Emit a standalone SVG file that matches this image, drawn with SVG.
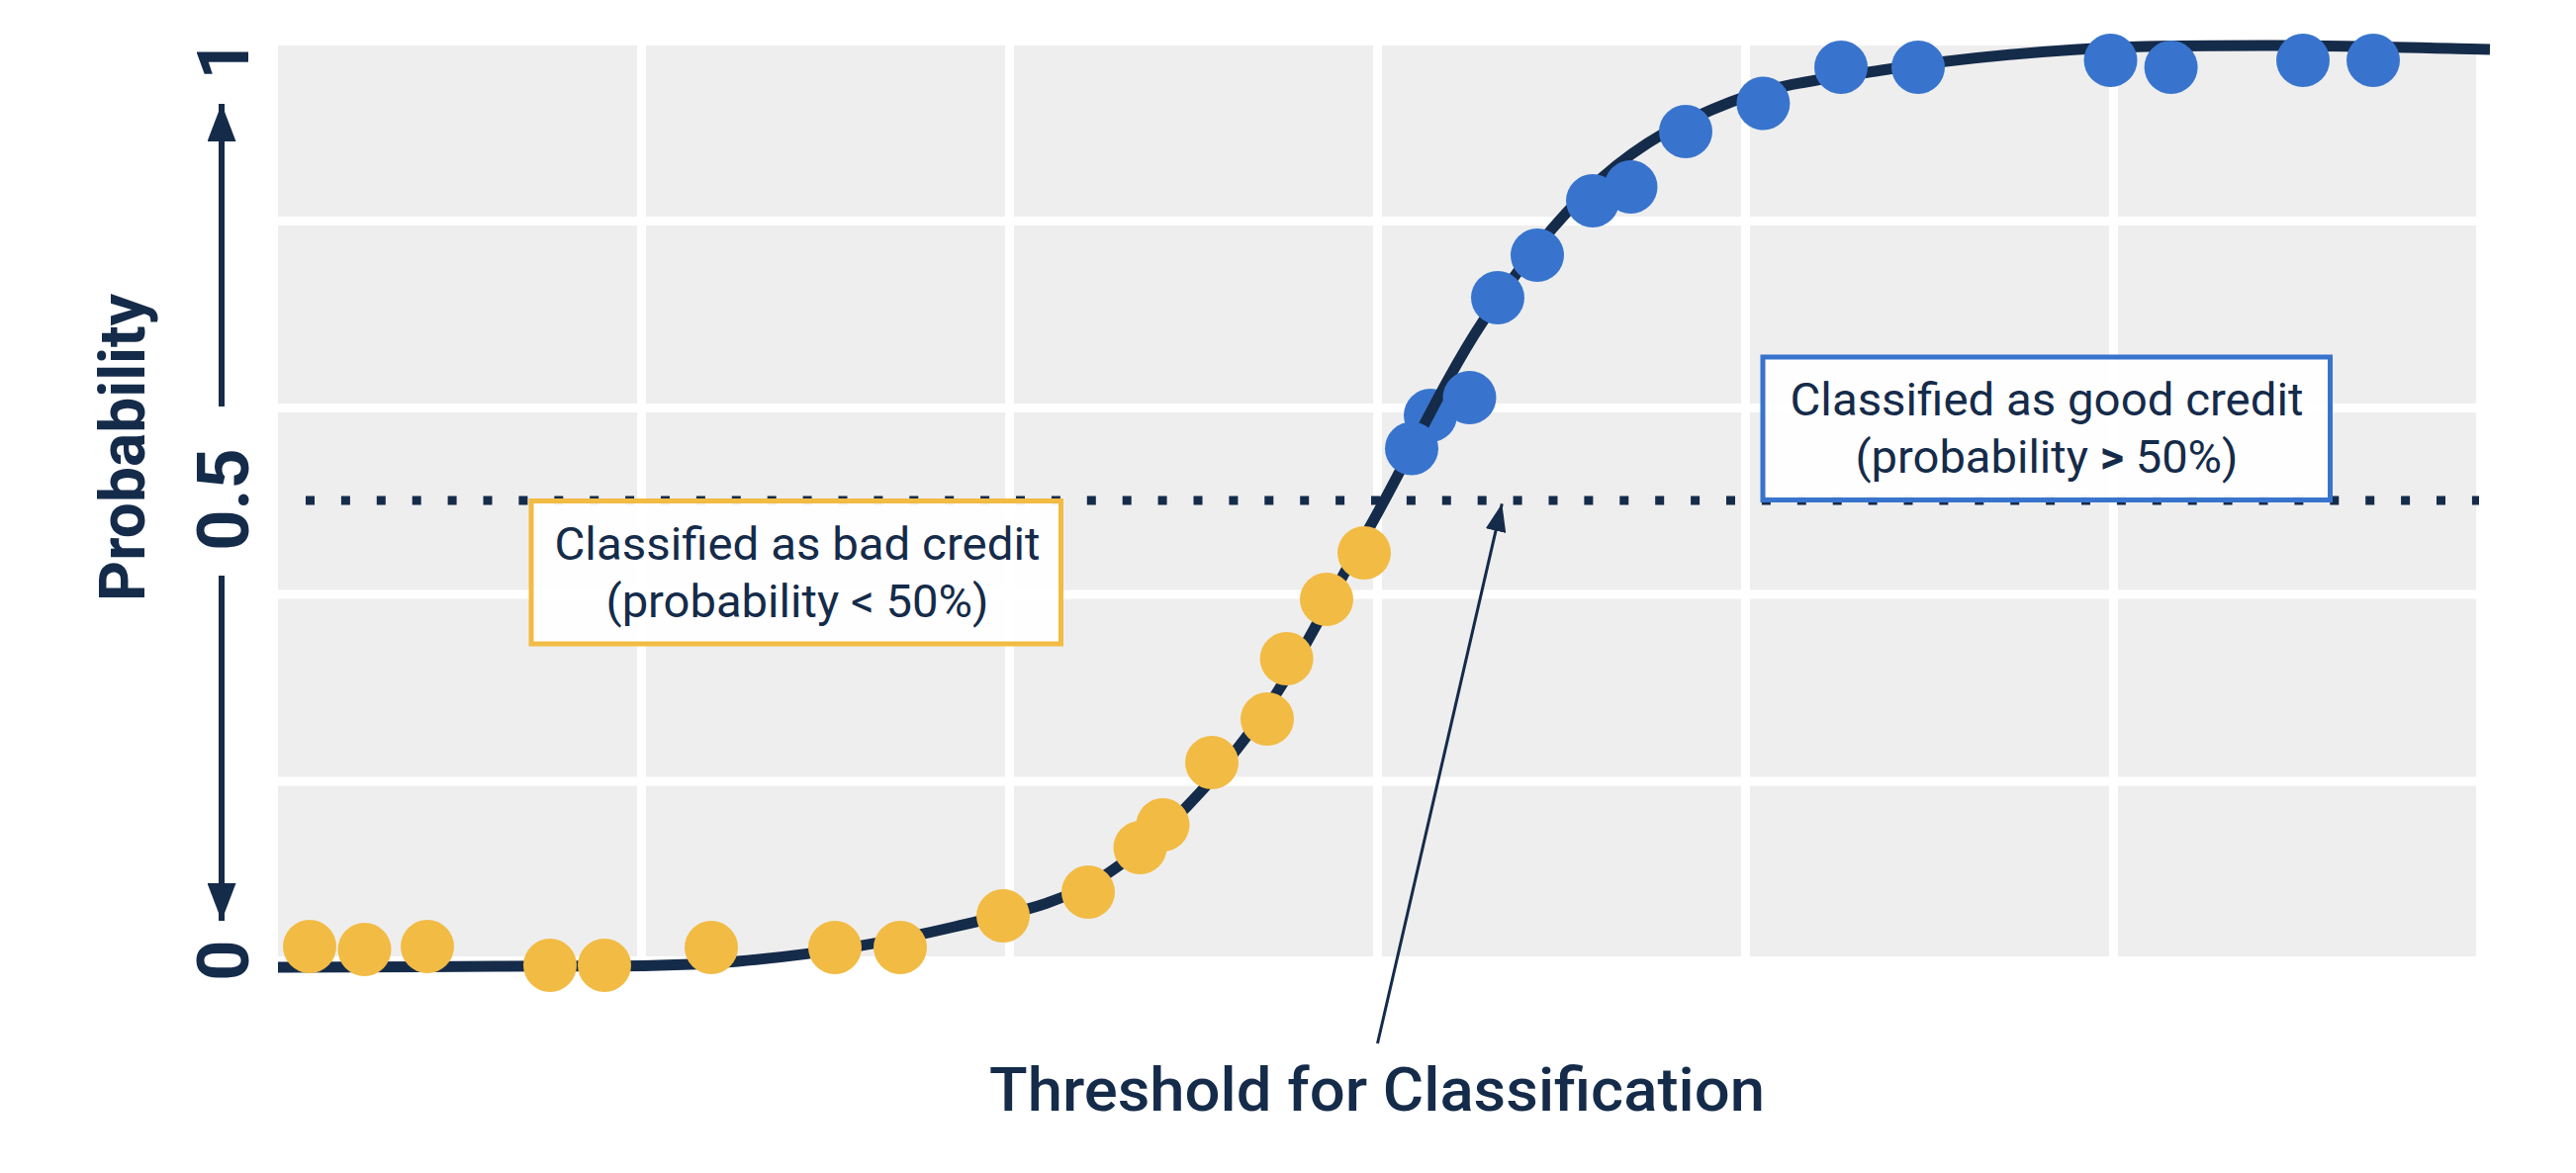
<svg xmlns="http://www.w3.org/2000/svg" width="2604" height="1186" viewBox="0 0 2604 1186">
<style>
.ink{fill:#152B4A}
.axis{font-family:Roboto,"Liberation Sans",sans-serif;font-weight:700;fill:#152B4A}
.box-text{font-family:Roboto,"Liberation Sans",sans-serif;font-size:47px;fill:#152B4A;text-anchor:middle}
.grid{stroke:#FFFFFF;stroke-width:9}
.bad{fill:#F2BB44}
.good{fill:#3874CD}
.conn{stroke:#152B4A;fill:none}
</style>
<defs>
<marker id="headSmall" markerUnits="userSpaceOnUse" markerWidth="28" markerHeight="21" refX="28" refY="10.5" orient="auto">
<path d="M0,0 L28,10.5 L0,21 Z" fill="#152B4A"/>
</marker>
<marker id="headAxis" markerUnits="userSpaceOnUse" markerWidth="38" markerHeight="29" refX="38" refY="14.5" orient="auto">
<path d="M0,0 L38,14.5 L0,29 Z" fill="#152B4A"/>
</marker>
</defs>
<rect width="2604" height="1186" fill="#FFFFFF"/>
<g id="plot-grid">
<rect x="281" y="46" width="2222" height="921" fill="#EEEEEE"/>
<line class="grid" x1="648.5" y1="46" x2="648.5" y2="967"/>
<line class="grid" x1="1020.5" y1="46" x2="1020.5" y2="967"/>
<line class="grid" x1="1392.5" y1="46" x2="1392.5" y2="967"/>
<line class="grid" x1="1764.5" y1="46" x2="1764.5" y2="967"/>
<line class="grid" x1="2136.5" y1="46" x2="2136.5" y2="967"/>
<line class="grid" x1="281" y1="223.5" x2="2503" y2="223.5"/>
<line class="grid" x1="281" y1="412.5" x2="2503" y2="412.5"/>
<line class="grid" x1="281" y1="601" x2="2503" y2="601"/>
<line class="grid" x1="281" y1="790" x2="2503" y2="790"/>
</g>
<g id="threshold-line">
<line x1="309" y1="506" x2="2506" y2="506" stroke="#152B4A" stroke-width="9" stroke-dasharray="9 26.9"/>
</g>
<g id="dot-under">
<circle class="good" cx="1446" cy="420" r="27"/>
</g>
<g id="curve">
<path d="M281,978 C317.5,977.8 422.5,978 500,977 C577.5,976 668.5,978.7 746,972 C823.5,965.3 902.7,951.8 965,937 C1027.3,922.2 1070.3,915.7 1120,883 C1169.7,850.3 1219,799.2 1263,741 C1307,682.8 1344.7,603.3 1384,534 C1423.3,464.7 1459.8,384 1499,325 C1538.2,266 1577.2,217 1619,180 C1660.8,143 1702.8,121.2 1750,103 C1797.2,84.8 1843.7,79.8 1902,71 C1960.3,62.2 2033.7,54.2 2100,50 C2166.3,45.8 2230.5,46 2300,46 C2369.5,46 2480.8,49.3 2517,50" fill="none" stroke="#152B4A" stroke-width="11" stroke-linecap="butt"/>
</g>
<g id="dots-bad">
<circle class="bad" cx="313" cy="957" r="27"/>
<circle class="bad" cx="368.5" cy="960" r="27"/>
<circle class="bad" cx="432" cy="957" r="27"/>
<circle class="bad" cx="556" cy="976" r="27"/>
<circle class="bad" cx="611" cy="976" r="27"/>
<circle class="bad" cx="719" cy="958" r="27"/>
<circle class="bad" cx="844" cy="958" r="27"/>
<circle class="bad" cx="910" cy="958" r="27"/>
<circle class="bad" cx="1014" cy="926" r="27"/>
<circle class="bad" cx="1100" cy="902" r="27"/>
<circle class="bad" cx="1175.5" cy="834" r="27"/>
<circle class="bad" cx="1152.5" cy="857" r="27"/>
<circle class="bad" cx="1225" cy="771" r="27"/>
<circle class="bad" cx="1281" cy="727" r="27"/>
<circle class="bad" cx="1300.6" cy="666" r="27"/>
<circle class="bad" cx="1341" cy="606" r="27"/>
<circle class="bad" cx="1379" cy="559" r="27"/>
</g>
<g id="dots-good">
<circle class="good" cx="1427" cy="453.5" r="27"/>
<circle class="good" cx="1485.5" cy="402" r="27"/>
<circle class="good" cx="1514" cy="301" r="27"/>
<circle class="good" cx="1554" cy="258" r="27"/>
<circle class="good" cx="1610" cy="203" r="27"/>
<circle class="good" cx="1648.5" cy="189" r="27"/>
<circle class="good" cx="1704" cy="133" r="27"/>
<circle class="good" cx="1782.4" cy="104.5" r="27"/>
<circle class="good" cx="1861" cy="68" r="27"/>
<circle class="good" cx="1939" cy="68" r="27"/>
<circle class="good" cx="2133.5" cy="61" r="27"/>
<circle class="good" cx="2194.6" cy="68" r="27"/>
<circle class="good" cx="2328" cy="61" r="27"/>
<circle class="good" cx="2399" cy="61" r="27"/>
</g>
<g id="box-bad">
<rect x="537" y="506.5" width="535.5" height="144.5" fill="#FFFFFF" fill-opacity="0.92" stroke="#F2BB44" stroke-width="5"/>
<text class="box-text" x="806" y="566" textLength="491" lengthAdjust="spacingAndGlyphs">Classified as bad credit</text>
<text class="box-text" x="806" y="624" textLength="387" lengthAdjust="spacingAndGlyphs">(probability &lt; 50%)</text>
</g>
<g id="box-good">
<rect x="1782" y="361" width="573.5" height="144.5" fill="#FFFFFF" fill-opacity="0.92" stroke="#3874CD" stroke-width="5"/>
<text class="box-text" x="2069" y="420" textLength="519" lengthAdjust="spacingAndGlyphs">Classified as good credit</text>
<text class="box-text" x="2069" y="478" textLength="387" lengthAdjust="spacingAndGlyphs">(probability <tspan font-weight="700">&gt;</tspan> 50%)</text>
</g>
<g id="threshold-label">
<text x="1392" y="1123" font-family="Roboto, 'Liberation Sans', sans-serif" font-weight="500" font-size="62" fill="#152B4A" text-anchor="middle" textLength="784" lengthAdjust="spacingAndGlyphs">Threshold for Classification</text>
</g>
<g id="y-axis">
<text class="axis" font-size="64" text-anchor="middle" transform="translate(146,452.5) rotate(-90)">Probability</text>
<text class="axis" font-size="72" text-anchor="middle" transform="translate(251,60) rotate(-90)">1</text>
<text class="axis" font-size="72" text-anchor="middle" transform="translate(251,505) rotate(-90)">0.5</text>
<text class="axis" font-size="72" text-anchor="middle" transform="translate(251,971) rotate(-90)">0</text>
</g>
<g id="connectors">
<line class="conn" x1="224" y1="411" x2="224" y2="105" stroke-width="6" marker-end="url(#headAxis)"/>
<line class="conn" x1="224" y1="582" x2="224" y2="931" stroke-width="6" marker-end="url(#headAxis)"/>
<line class="conn" x1="1392.5" y1="1055" x2="1518.3" y2="509.3" stroke-width="3" marker-end="url(#headSmall)"/>
</g>
</svg>
